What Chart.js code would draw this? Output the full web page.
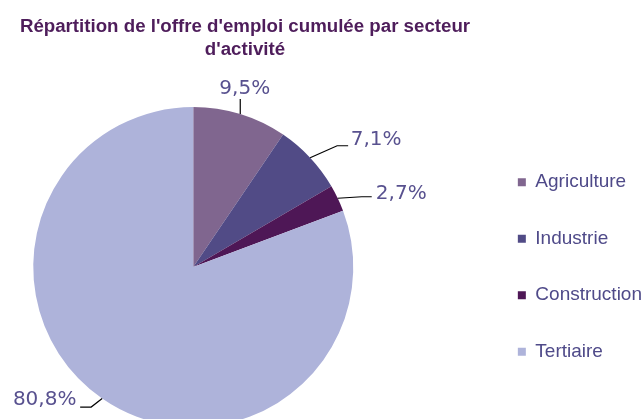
<!DOCTYPE html>
<html>
<head>
<meta charset="utf-8">
<script src="https://cdn.jsdelivr.net/npm/chart.js@4"></script>
<style>
  html, body { margin: 0; padding: 0; background: #ffffff; overflow: hidden; }
  #wrap { position: relative; width: 643px; height: 419px; overflow: hidden; }
  #c { position: absolute; top: 0; }
</style>
</head>
<body>
<div id="wrap"><canvas id="c"></canvas></div>
<script>
const titleLines = ["Répartition de l'offre d'emploi cumulée par secteur", "d'activité"];
const categories = ["Agriculture", "Industrie", "Construction", "Tertiaire"];
const shares = [9.5, 7.1, 2.7, 80.8];
const valueLabels = ["9,5%", "7,1%", "2,7%", "80,8%"];
const sliceColors = ["#80668F", "#514B86", "#4E1756", "#AEB3DA"];

// ---- styling / layout constants ----
const FONT = '"Liberation Sans", Arial, sans-serif';
const LEGEND_FONT_SIZE = 19;
const LEGEND_PAD = 37.5;
const LEGEND_BOX = 8;

// measure legend width so the canvas can be placed to match the reference layout
const mctx = document.createElement('canvas').getContext('2d');
mctx.font = LEGEND_FONT_SIZE + 'px ' + FONT;
const maxText = Math.max(...categories.map(t => mctx.measureText(t).width));
const legendW = LEGEND_PAD + LEGEND_BOX + LEGEND_FONT_SIZE / 2 + maxText + 10;
const off = legendW - 10 + (LEGEND_PAD - 37);
const spacerW = off - 94;
const canvasW = 490 + 2 * off;
const canvasH = 469;

const canvas = document.getElementById('c');
canvas.width = canvasW;
canvas.height = canvasH;
canvas.style.left = (-off) + 'px';

// label placement (relative to each slice's outer mid point)
const labelLayout = [
  { dx: 4.5, dy: -25, line: [[0, 0], [0, -15]] },
  { dx: 66, dy: -18, line: [[0, 0], [27, -12], [38, -12]] },
  { dx: 63.5, dy: -4.5, line: [[0, 0], [24, -1.5], [34, -1.5]] },
  { dx: -57.5, dy: 1.5, line: [[0, 0], [-11, 8.5], [-22, 8.5]] }
];

const leftSpacer = {
  id: 'leftSpacer',
  beforeInit(chart) {
    Chart.layouts.addBox(chart, {
      position: 'left',
      weight: 0,
      fullSize: false,
      options: {},
      width: 0,
      height: 0,
      update(maxWidth, maxHeight) { this.width = spacerW; this.height = maxHeight; },
      isHorizontal() { return false; },
      draw() {}
    });
  }
};

const outsideLabels = {
  id: 'outsideLabels',
  afterDatasetsDraw(chart) {
    const ctx = chart.ctx;
    const meta = chart.getDatasetMeta(0);
    ctx.save();
    meta.data.forEach((arc, i) => {
      const p = arc.getProps(['x', 'y', 'startAngle', 'endAngle', 'outerRadius'], true);
      const mid = (p.startAngle + p.endAngle) / 2;
      const ax = p.x + Math.cos(mid) * p.outerRadius;
      const ay = p.y + Math.sin(mid) * p.outerRadius;
      const L = labelLayout[i];
      ctx.beginPath();
      L.line.forEach((pt, k) => {
        if (k === 0) ctx.moveTo(ax + pt[0], ay + pt[1]);
        else ctx.lineTo(ax + pt[0], ay + pt[1]);
      });
      ctx.strokeStyle = '#000000';
      ctx.lineWidth = 1.2;
      ctx.stroke();
      ctx.font = '20px "DejaVu Sans"';
      ctx.fillStyle = '#58518F';
      ctx.textAlign = 'center';
      ctx.textBaseline = 'middle';
      ctx.fillText(valueLabels[i], ax + L.dx, ay + L.dy);
    });
    ctx.restore();
  }
};

new Chart(canvas, {
  type: 'pie',
  data: {
    labels: categories,
    datasets: [{
      data: shares,
      backgroundColor: sliceColors,
      borderWidth: 0
    }]
  },
  options: {
    responsive: false,
    animation: false,
    devicePixelRatio: 1,
    radius: 160,
    layout: { padding: 0 },
    plugins: {
      title: {
        display: true,
        text: titleLines,
        color: '#4E1D5B',
        font: { family: FONT, size: 18.7, weight: 'bold', lineHeight: '23px' },
        padding: { top: 15, bottom: 4 }
      },
      legend: {
        position: 'right',
        fullSize: false,
        labels: {
          boxWidth: LEGEND_BOX,
          boxHeight: LEGEND_BOX,
          padding: LEGEND_PAD,
          color: '#4F4A89',
          font: { family: FONT, size: LEGEND_FONT_SIZE }
        }
      },
      tooltip: { enabled: false }
    }
  },
  plugins: [leftSpacer, outsideLabels]
});
</script>
</body>
</html>
